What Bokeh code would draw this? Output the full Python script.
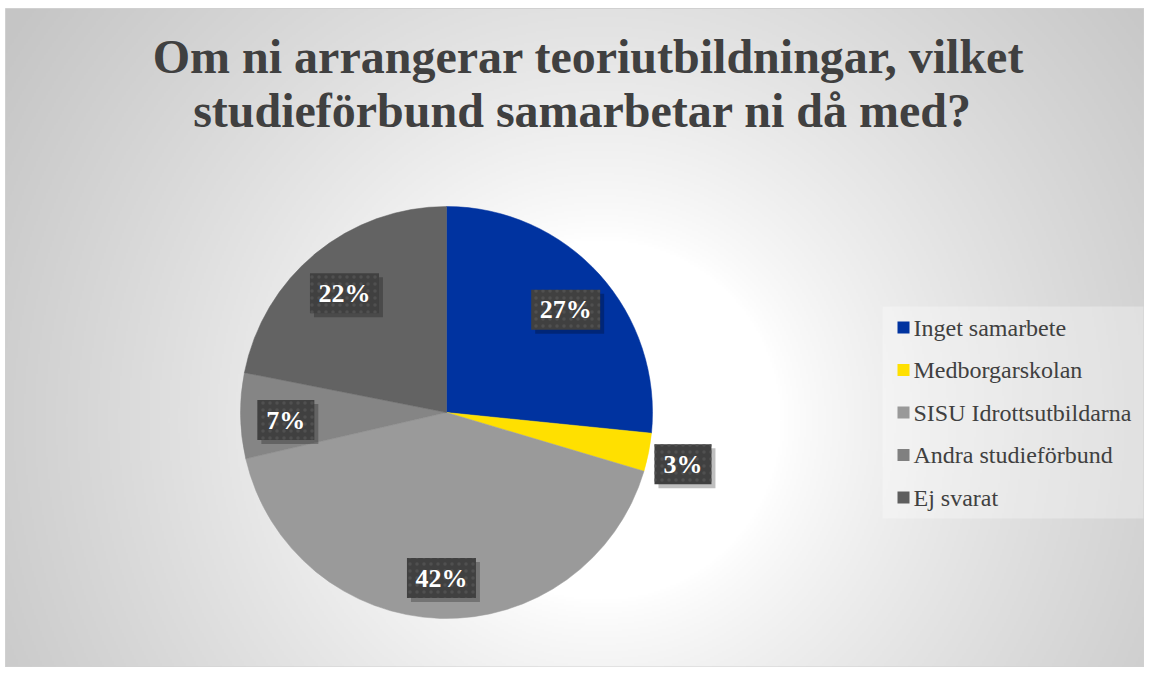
import numpy as np
from bokeh.plotting import figure
from bokeh.models import ColumnDataSource, Range1d
from bokeh.core.properties import value
from bokeh.embed import file_html
from bokeh.resources import INLINE

# ---- data ----
title_lines = ["Om ni arrangerar teoriutbildningar, vilket",
               "studieförbund samarbetar ni då med?"]
categories = ["Inget samarbete", "Medborgarskolan", "SISU Idrottsutbildarna",
              "Andra studieförbund", "Ej svarat"]
shares = [26.6, 3.0, 41.8, 6.7, 21.9]
slice_colors = ["#0033a0", "#ffe000", "#9a9a9a", "#858585", "#636363"]
legend_colors = ["#0033a0", "#ffe000", "#999999", "#808080", "#5e5e5e"]

# ---- canvas in screenshot pixel coordinates ----
W, H = 1144, 667
def X(px):
    return px
def Y(py):
    return H - py

p = figure(width=W, height=H, x_range=Range1d(0, W), y_range=Range1d(0, H),
           output_backend="svg", toolbar_location=None, min_border=0,
           x_axis_location=None, y_axis_location=None)
p.grid.visible = False
p.outline_line_color = None
p.background_fill_color = "white"
p.border_fill_color = "white"

# chart-area radial gradient background
fx0, fx1, fy0, fy1 = 5, W, 8, H
gh, gw = (fy1 - fy0) // 2, (fx1 - fx0) // 2
yy, xx = np.mgrid[0:gh, 0:gw]
xpage = fx0 + (xx + 0.5) * 2
ypage = fy1 - (yy + 0.5) * 2
d = np.hypot(xpage - 600, ypage - 420)
drop = 58 * np.clip((d - 180) / 530, 0, 1) ** 0.8
v = np.clip(255 - drop, 0, 255).astype(np.uint32)
img = (255 << 24) | (v << 16) | (v << 8) | v
p.image_rgba(image=[img.astype(np.uint32)], x=X(fx0), y=Y(fy1),
             dw=fx1 - fx0, dh=fy1 - fy0)
p.quad(left=X(fx0), right=X(fx1) - 0.5, bottom=Y(fy1) + 0.5, top=Y(fy0),
       fill_color=None, line_color="#d0d0d0", line_width=1)

# ---- pie ----
cx, cy, r = X(446), Y(412), 206
tot = sum(shares)
fr = np.array(shares) / tot
cum = np.concatenate([[0], np.cumsum(fr)])
start = np.pi / 2 - 2 * np.pi * cum[:-1]
end = np.pi / 2 - 2 * np.pi * cum[1:]
src = ColumnDataSource(dict(start=start, end=end, color=slice_colors))
p.wedge(x=cx, y=cy, radius=r, start_angle="start", end_angle="end",
        direction="clock", fill_color="color", line_color="color",
        line_width=0.5, source=src)

# ---- data labels ----
mid = (start + end) / 2
rf = np.where(fr < 0.05, 1.17, 0.78)
lx = cx + r * rf * np.cos(mid)
ly = cy + r * rf * np.sin(mid) - 5
labels = [f"{round(s)}%" for s in shares]
bw = np.array([12 * len(t) + 33 for t in labels])
lsrc = ColumnDataSource(dict(x=lx, y=ly, sx=lx + 4, sy=ly - 4, w=bw, text=labels))
p.rect(x="sx", y="sy", width="w", height=40, source=lsrc,
       fill_color="black", fill_alpha=0.25, line_color=None)
p.rect(x="x", y="y", width="w", height=40, source=lsrc,
       fill_color="#404040", line_color=None,
       hatch_pattern="dot", hatch_color="#545454", hatch_scale=7, hatch_alpha=0.8)
p.text(x="x", y="y", text="text", source=lsrc, text_color="white",
       text_font=value("Liberation Serif"), text_font_style="bold",
       text_font_size="26px", text_align="center", text_baseline="middle")

# ---- title ----
p.text(x=[X(588), X(582)], y=[Y(56), Y(110)], text=title_lines,
       text_color="#404040", text_font=value("Liberation Serif"),
       text_font_style="bold", text_font_size="48px",
       text_align="center", text_baseline="middle")

# ---- legend ----
p.quad(left=X(882), right=X(1143), bottom=Y(518), top=Y(306),
       fill_color="white", fill_alpha=0.3, line_color=None)
rows = np.arange(len(categories))
ley = Y(327) - rows * 42.5
n = len(categories)
legsrc = ColumnDataSource(dict(x=[X(903)] * n, tx=[X(913)] * n,
                               y=ley, color=legend_colors, text=categories))
p.rect(x="x", y="y", width=12, height=12, source=legsrc,
       fill_color="color", line_color=None)
p.text(x="tx", y="y", text="text", source=legsrc, text_color="#404040",
       text_font=value("Liberation Serif"), text_font_size="24px",
       text_align="left", text_baseline="middle")

open("out.html", "w").write(file_html(p, INLINE))
